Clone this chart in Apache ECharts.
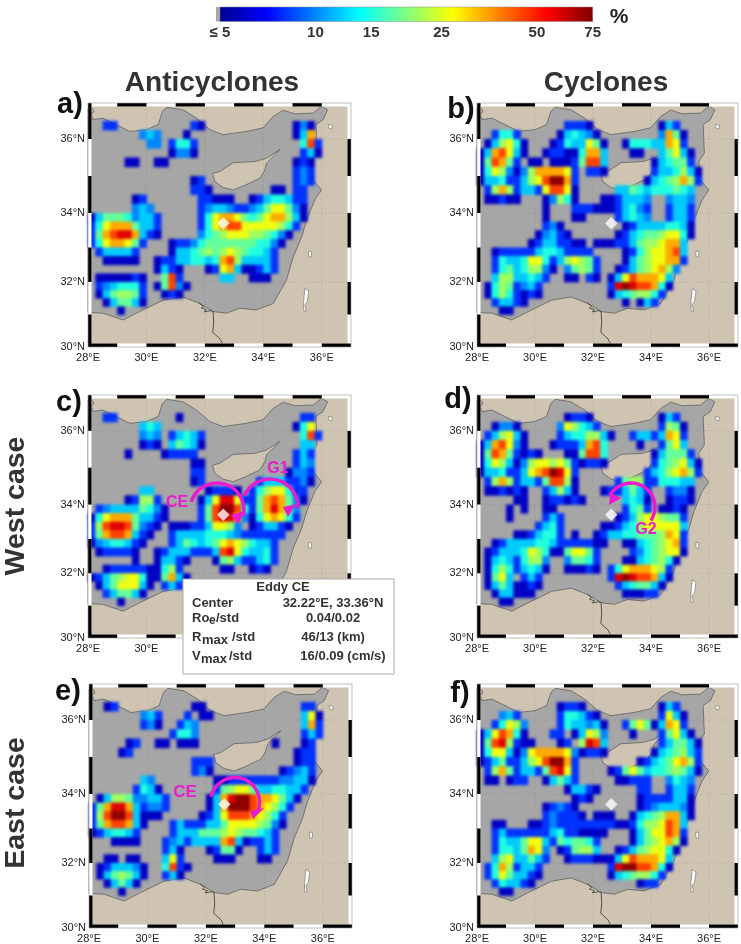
<!DOCTYPE html>
<html><head><meta charset="utf-8">
<style>html,body{margin:0;padding:0;background:#fff}#c{width:741px;height:944px}canvas[data-zr-dom-id="zr_1"]{filter:blur(1.8px)}</style>
<script src="https://cdn.jsdelivr.net/npm/echarts@6/dist/echarts.min.js"></script>
</head><body><div id="c"></div>
<script>
// level code -> eddy frequency (%)
const levelPercent={'0':6,'1':8,'2':10,'3':12,'4':15,'5':18,'6':21,'7':26,'8':34,'9':45,'A':58,'B':72};
// rows run from 36.5N southward in 0.25 deg bands; each group is one degree of longitude from 28E
const panelA=[
"..11|....|....|..10|....|....|....|020.",
"....|...2|32..|.0..|....|....|....|038.",
"....|....|22.1|441.|....|....|....|.491",
"....|....|...0|220.|....|....|....|.130",
"....|.00.|.00.|....|....|....|....|010.",
"....|....|....|....|....|....|....|121.",
"....|....|....|..01|....|....|....|121.",
"....|....|....|..11|0...|....|.00.|11..",
"....|..01|....|...1|1000|..01|3443|11..",
"....|..23|2...|...1|2332|1123|5775|20..",
"0355|5423|31..|...1|4788|7545|7886|30..",
"1478|8853|31..|...1|4789|9777|7764|1...",
"1589|AA83|10..|...2|4567|7766|5420|....",
"1478|8751|...0|1124|5555|5554|420.|....",
".133|331.|...0|3345|6567|6544|31..|....",
"..00|000.|.011|3344|3489|6333|31..|....",
"....|....|.031|0...|0178|3001|31..|....",
".000|0010|..59|1...|..33|..00|0...|....",
".123|4441|.059|20..",
".035|6651|..01|0...",
"..03|5530",
"....|0..."];
const panelB=[
"....|....|....|1110|....|....|.031",
"..14|41..|...0|3432|0...|....|.285|0...",
".036|740.|..01|4337|50..|0444|3387|1...",
"0389|730.|.011|0048|83..|.00.|.357|30..",
"0598|51.0|0.00|0159|93..|....|0345|51..",
"0476|2026|8888|71.1|10..|....|1334|630.",
"0334|1136|79BB|81..|....|...0|3456|861.",
".168|6133|1799|70..|...3|3543|4445|43..",
".001|00..|.026|40..|.001|3332|..23|32..",
"....|....|.0..|.111|0001|3421|..13|31..",
"....|....|.0..|.00.|...1|3432|..13|31..",
"....|....|.120|....|....|0133|3344|30..",
"....|....|0231|0...|...0|1345|5677|40..",
"....|...0|1331|100.|0001|1356|6788|3...",
"..01|1111|3443|1111|....|0146|7789|3...",
"..14|3347|7413|6765|1...|0356|7788|1...",
"..14|5346|620.|2565|1..0|1356|7862|....",
"..36|6334|31..|00.1|0.03|7988|873.|....",
".046|5123|1...|....|..1A|BA99|840.|....",
".046|4101|0...|....|..03|4566|41..|....",
"..13|310.|....|....|....|0.03|1...|....",
"...0|0..."];
const panelC=[
"..11|....|....|0...|....|....|....|.11.",
"....|...3|43..|....|....|....|....|047.",
"....|...2|32.1|3431|....|....|....|.491",
"....|...0|10.3|5430|....|....|....|.33.",
"....|.0..|..01|111.|....|....|....|131.",
"....|....|....|..00|....|....|....|132.",
"....|....|....|..11|....|....|...0|221.",
"....|....|....|..01|....|...1|3331|120.",
"....|...3|3...|....|0111|0.14|6774|11..",
"....|.016|61..|...0|37AA|7115|8985|20..",
".123|3335|420.|...1|59BB|9415|8A85|2...",
"0478|8853|310.|...1|59AA|8204|7874|1...",
"169A|A952|10.0|0011|3776|2.01|3310|....",
"1589|9831|0..1|3333|4443|2111|111.|....",
"0234|4310|...1|3543|4578|7643|31..|....",
".011|110.|.013|3311|139A|7433|41..|....",
"....|..0.|.033|10..|.056|3113|41..|....",
"..01|1111|0046|1...|..00|..01|0...|....",
"0135|6774|0058|30..",
".035|7773|0.13|1...",
"..13|5530",
"....|0..."];
const panelD=[
"....|....|....|0110|....|....|.031",
"..02|20..|...2|7643|1...|....|.165|0...",
".136|730.|...1|3446|630.|.133|1387|1...",
"0389|720.|..01|1138|94..|..0.|.157|3...",
"0598|5101|0...|0059|94..|....|0355|51..",
"0476|3026|7767|5101|10..|....|1456|730.",
"0334|1137|89BA|71..|....|...1|3467|861.",
".168|6133|1599|60..|...1|5661|1444|33..",
".001|010.|.136|30..|.011|3531|..12|20..",
"....|.00.|.011|010.|....|3430|..01|10..",
"....|0.0.|.00.|....|....|1451|.001|0...",
"....|0...|.131|....|...0|1367|7655|1...",
"....|....|1341|....|.001|3467|7777|3...",
"....|.001|3441|.0..|0133|4455|5687|1...",
"..01|3333|4431|1111|00..|0034|5678|1...",
".013|3347|6400|5775|1...|.124|5677|0...",
".034|3146|62..|2554|1...|0034|5640|....",
".046|4134|30..|0001|0.14|7888|761.|....",
".057|3.13|1...|....|..1A|BA99|830.|....",
".035|3001|0...|....|...1|3455|30..|....",
"..03|3000|....|....|....|0001|1...|....",
"...0|0..."];
const panelE=[
"..01|....|....|..00|....|....|....|.11.",
"....|...2|31..|.1.0|0...|....|....|.370",
"....|...1|20..|132.|....|....|....|.381",
"....|....|...1|442.|....|....|....|.131",
"....|.01.|.00.|000.|....|....|.0..|.01.",
"....|01..|....|....|....|....|....|011.",
"....|....|....|..11|1...|....|....|011.",
"....|....|....|..12|0...|....|..01|231.",
"....|...3|2...|....|.001|1111|1122|330.",
"....|..14|30..|....|.156|7753|3443|31..",
".036|6522|331.|....|038A|BB98|8753|0...",
"158A|A831|221.|....|038B|BB98|7641|....",
"169B|B930|00..|...0|1379|9987|641.|....",
"1589|9830|...1|3111|3357|7776|520.|....",
"0134|431.|...1|3335|5567|6554|31..|....",
"...0|000.|..12|3133|3389|3011|31..|....",
"....|....|..13|0...|0155|0..1|31..|....",
"..00|.00.|..37|1...|.000|...0|0...|....",
".013|3320|..49|10..",
".035|6530|..13|0...",
"..03|530.",
"....|0..."];
const panelF=[
"....|....|...0|110.|....|....|.031",
"...2|31..|...1|4431|0...|....|.173|0...",
"..14|762.|...1|4332|30..|1575|0387|1...",
"0379|840.|..11|.037|62..|.0..|.157|30..",
"059A|6100|...0|1.6A|93..|....|.135|530.",
"0477|3027|8888|7201|10..|....|0345|631.",
"0135|1136|79BB|81..|....|..01|3457|861.",
".168|5133|159A|71..|..01|5753|4456|530.",
".00.|011.|.035|31..|...0|0111|..24|32..",
"....|....|....|0331|0...|..11|..13|31..",
"....|....|....|.010|....|..01|1113|30..",
"....|....|.012|10..|....|..01|2333|20..",
"....|....|.121|110.|000.|.034|5688|30..",
"..00|...0|0121|1111|1110|0146|6798|3...",
"..13|1111|1134|1100|00..|.035|7798|1...",
"..14|3357|7315|4554|1...|.035|6786|0...",
"..14|4358|72.0|1566|3..0|1356|7740|....",
"..36|7335|31..|0111|0003|7988|873.|....",
".148|6133|1...|....|..1A|BB99|840.|....",
".147|5331|0...|....|..03|4566|41..|....",
"..14|3310|....|....|....|..01|1...|....",
"...0|0..."];
const seaOutline=[[28,36.86],[28.05,36.86],[28.17,36.54],[28.51,36.58],[28.97,36.40],[29.43,36.21],[30.0,36.26],[30.4,36.40],[30.55,36.77],[30.7,36.88],[31.25,36.81],[31.71,36.58],[32.17,36.26],[32.62,36.12],[33.42,36.21],[33.99,36.31],[34.34,36.63],[34.68,36.80],[35.08,36.70],[35.71,36.72],[35.99,36.91],[36.2,36.81],[36.05,36.54],[35.8,36.40],[35.84,35.62],[35.65,35.39],[35.71,34.89],[35.99,34.62],[35.76,34.35],[35.48,33.79],[35.31,33.30],[35.02,32.72],[34.79,32.05],[34.34,31.34],[33.76,31.14],[33.19,31.19],[32.74,31.04],[32.28,31.09],[31.82,31.34],[31.25,31.54],[30.57,31.44],[29.77,31.09],[29.2,30.83],[28.51,31.04],[28.03,31.06],[28,31.06]];
const cyprusOutline=[[34.56,35.71],[34.11,35.48],[33.71,35.39],[32.97,35.36],[32.68,35.21],[32.51,35.12],[32.26,35.07],[32.34,34.85],[32.62,34.69],[32.97,34.62],[33.37,34.75],[33.88,34.94],[34.05,35.16],[34.11,35.35],[34.39,35.57]];
const deadSea=[[35.42,31.8],[35.55,31.72],[35.5,31.4],[35.42,31.3],[35.47,31.1],[35.38,31.12],[35.38,31.4]];
const tiberias=[[35.55,32.9],[35.65,32.88],[35.64,32.72],[35.55,32.74]];
const islet=[[36.22,36.4],[36.36,36.38],[36.34,36.28],[36.24,36.3]];
const nileDelta=[[31.8,31.36],[31.95,31.25],[31.88,31.2],[32.05,31.15],[31.98,31.08],[32.2,31.12],[32.28,31.09],[32.3,30.75],[32.27,30.45],[32.52,30.25],[32.63,30.05]];
const coastBits=[[28.1,36.7],[28.2,36.75],[28.15,36.85]];
const lonTicks=[28,30,32,34,36];
const latTicks=[30,32,34,36];
const gridLons=[30,32,34,36];
const latStops=[30,32,34,36,37];
const projStops=[0,65,134,208,244];
const frameTop=[29,31,33,35],frameBottom=[28,30,32,34,36],frameLeft=[30,32,34,36],frameRight=[31,33,35];
const markerLon=32.63,markerLat=33.7;
const colorbarTicks=[5,10,15,25,50,75];
const colorbarLabels=['≤ 5','10','15','25','50','75'];
const jetStops=[[0,'#00008f'],[0.125,'#0000ff'],[0.375,'#00ffff'],[0.625,'#ffff00'],[0.875,'#ff0000'],[1,'#800000']];

const panels=[panelA,panelB,panelC,panelD,panelE,panelF];
const layout=[[88,103,263,244],[477,103,261,244],[88,395,263,243],[477,395,261,243],[89,684,263,245],[477,684,261,245]];
const LAND='#cfc4b2',SEA='#a6a6a6';

function proj(lat){for(let i=0;i<4;i++){if(lat<=latStops[i+1]){const f=(lat-latStops[i])/(latStops[i+1]-latStops[i]);return projStops[i]+f*(projStops[i+1]-projStops[i]);}}return 244;}
function clamp(v){return Math.max(0,Math.min(1,v));}
function jet(p){const t=clamp(Math.log(p/5)/Math.log(15));
 const h=v=>Math.round(255*clamp(v));
 return 'rgb('+h(1.5-Math.abs(4*t-3))+','+h(1.5-Math.abs(4*t-2))+','+h(1.5-Math.abs(4*t-1))+')';}
function cells(rows){const out=[];rows.forEach((r,ri)=>{r.replace(/\|/g,'').split('').forEach((ch,ci)=>{if(ch==='.')return;
 const lon=28+0.25*ci,top=36.5-0.25*ri;
 out.push([lon,lon+0.25,proj(top),proj(top-0.25),levelPercent[ch]]);});});return out;}
function polyShape(api,pts){return pts.map(p=>api.coord([p[0],proj(p[1])]));}

const grids=[],xAxes=[],yAxes=[],series=[];
layout.forEach((g,i)=>{
 grids.push({left:g[0],top:g[1],width:g[2],height:g[3],show:true,backgroundColor:LAND,borderWidth:0});
 xAxes.push({type:'value',gridIndex:i,min:28,max:37,axisLine:{show:false},axisTick:{show:false},splitLine:{show:false},
  axisLabel:{customValues:lonTicks,formatter:v=>v+'°E',color:'#222',fontSize:11,margin:5,fontFamily:'Liberation Sans'}});
 yAxes.push({type:'value',gridIndex:i,min:0,max:244,axisLine:{show:false},axisTick:{show:false},splitLine:{show:false},
  axisLabel:{customValues:latTicks.map(proj),formatter:v=>{let b=latTicks[0];latTicks.forEach(l=>{if(Math.abs(proj(l)-v)<1)b=l;});return b+'°N';},color:'#222',fontSize:11,margin:3,fontFamily:'Liberation Sans'}});
 // land and sea
 series.push({type:'custom',xAxisIndex:i,yAxisIndex:i,coordinateSystem:'cartesian2d',z:2,silent:true,clip:false,data:[[28,0]],
  renderItem(p,api){const kids=[];
   kids.push({type:'polygon',shape:{points:polyShape(api,seaOutline)},style:{fill:SEA,stroke:'#444',lineWidth:0.6}});
   kids.push({type:'polygon',shape:{points:polyShape(api,cyprusOutline)},style:{fill:LAND,stroke:'#444',lineWidth:0.6}});
   [deadSea,tiberias,islet].forEach(s=>kids.push({type:'polygon',shape:{points:polyShape(api,s)},style:{fill:'#fff',stroke:'#555',lineWidth:0.5}}));
   kids.push({type:'polyline',shape:{points:polyShape(api,nileDelta)},style:{fill:null,stroke:'#333',lineWidth:0.8}});
   kids.push({type:'polyline',shape:{points:polyShape(api,coastBits)},style:{fill:null,stroke:'#333',lineWidth:0.6}});
   gridLons.forEach(l=>{const a=api.coord([l,0]),b=api.coord([l,244]);kids.push({type:'line',shape:{x1:a[0],y1:a[1],x2:b[0],y2:b[1]},style:{stroke:'rgba(70,70,70,0.3)',lineWidth:0.6,lineDash:[1,2]}});});
   latTicks.forEach(l=>{const a=api.coord([28,proj(l)]),b=api.coord([37,proj(l)]);kids.push({type:'line',shape:{x1:a[0],y1:a[1],x2:b[0],y2:b[1]},style:{stroke:'rgba(70,70,70,0.3)',lineWidth:0.6,lineDash:[1,2]}});});
   return {type:'group',children:kids};}});
 // frequency cells
 series.push({type:'custom',xAxisIndex:i,yAxisIndex:i,coordinateSystem:'cartesian2d',zlevel:1,z:3,silent:true,data:cells(panels[i]),encode:{x:[0,1],y:[2,3]},
  renderItem(p,api){const a=api.coord([api.value(0),api.value(2)]),b=api.coord([api.value(1),api.value(3)]);
   return {type:'rect',shape:{x:a[0],y:a[1],width:b[0]-a[0]+0.4,height:b[1]-a[1]+0.4},style:{fill:jet(api.value(4))}};}});
 // reference point
 series.push({type:'scatter',xAxisIndex:i,yAxisIndex:i,zlevel:2,z:4,silent:true,symbol:'diamond',symbolSize:12,itemStyle:{color:'#fff',borderColor:'#eee',borderWidth:0.5},data:[[markerLon,proj(markerLat)]]});
 // map frame
 series.push({type:'custom',xAxisIndex:i,yAxisIndex:i,coordinateSystem:'cartesian2d',zlevel:2,z:5,silent:true,clip:false,data:[[28,0]],
  renderItem(p,api){const w=3.5;const tl=api.coord([28,244]),br=api.coord([37,0]);const L=tl[0],T=tl[1],R=br[0],B=br[1];
   const kids=[
    {type:'rect',shape:{x:L,y:T,width:R-L,height:w},style:{fill:'#fff'}},
    {type:'rect',shape:{x:L,y:B-w,width:R-L,height:w},style:{fill:'#fff'}},
    {type:'rect',shape:{x:L,y:T,width:w,height:B-T},style:{fill:'#fff'}},
    {type:'rect',shape:{x:R-w,y:T,width:w,height:B-T},style:{fill:'#fff'}}];
   frameTop.forEach(l=>{const a=api.coord([l,0])[0],b=api.coord([l+1,0])[0];kids.push({type:'rect',shape:{x:a,y:T,width:b-a,height:w},style:{fill:'#000'}});});
   frameBottom.forEach(l=>{const a=api.coord([l,0])[0],b=api.coord([l+1,0])[0];kids.push({type:'rect',shape:{x:a,y:B-w,width:b-a,height:w},style:{fill:'#000'}});});
   frameLeft.forEach(l=>{const a=api.coord([28,proj(l+1)])[1],b=api.coord([28,proj(l)])[1];kids.push({type:'rect',shape:{x:L,y:a,width:w,height:b-a},style:{fill:'#000'}});});
   frameRight.forEach(l=>{const a=api.coord([28,proj(l+1)])[1],b=api.coord([28,proj(l)])[1];kids.push({type:'rect',shape:{x:R-w,y:a,width:w,height:b-a},style:{fill:'#000'}});});
   kids.push({type:'rect',shape:{x:L,y:T,width:R-L,height:B-T},style:{fill:null,stroke:'#999',lineWidth:0.6}});
   return {type:'group',children:kids};}});
});
// colour bar
const cbIdx=layout.length,ln=Math.log;
grids.push({left:216,top:7,width:376.7,height:14.5,show:false});
xAxes.push({type:'value',gridIndex:cbIdx,min:ln(5)-0.029,max:ln(75),position:'bottom',axisLine:{show:false},
 axisTick:{show:true,inside:true,length:3,customValues:colorbarTicks.map(ln),lineStyle:{color:'#555',width:0.6}},splitLine:{show:false},
 axisLabel:{customValues:colorbarTicks.map(ln),formatter:v=>{let k=0;colorbarTicks.forEach((t,j)=>{if(Math.abs(ln(t)-v)<1e-3)k=j;});return colorbarLabels[k];},color:'#333',fontSize:15,fontWeight:'bold',margin:4,fontFamily:'Liberation Sans',hideOverlap:false}});
yAxes.push({type:'value',gridIndex:cbIdx,min:0,max:1,show:false});
series.push({type:'custom',xAxisIndex:cbIdx,yAxisIndex:cbIdx,coordinateSystem:'cartesian2d',z:2,silent:true,clip:false,data:[[ln(5),ln(75)]],
 renderItem(p,api){const a=api.coord([api.value(0),1]),b=api.coord([api.value(1),0]),g=api.coord([ln(5)-0.029,1]);
  return {type:'group',children:[
   {type:'rect',shape:{x:g[0],y:a[1],width:a[0]-g[0],height:b[1]-a[1]},style:{fill:'#a8a8a8'}},
   {type:'rect',shape:{x:a[0],y:a[1],width:b[0]-a[0],height:b[1]-a[1]},style:{fill:new echarts.graphic.LinearGradient(0,0,1,0,jetStops.map(s=>({offset:s[0],color:s[1]}))),stroke:'#888',lineWidth:0.5}}]};}});

const MAG='#e81ccf',TXT='#333';
const F='Liberation Sans';
function txt(x,y,t,size,opts){opts=opts||{};return {type:'text',zlevel:2,z:100,x:x,y:y,silent:true,rotation:opts.rot||0,
 style:{text:t,font:(opts.weight||'bold')+' '+size+'px "'+F+'"',fill:opts.fill||TXT,textAlign:opts.align||'center',textVerticalAlign:'middle'}};}
function arc(cx,cy,r,s,e,cw){return {type:'arc',zlevel:2,z:100,silent:true,shape:{cx:cx,cy:cy,r:r,startAngle:s*Math.PI/180,endAngle:e*Math.PI/180,clockwise:cw},style:{fill:null,stroke:MAG,lineWidth:3.5}};}
function tri(p){return {type:'polygon',zlevel:2,z:100,silent:true,shape:{points:p},style:{fill:MAG}};}
const graphic=[
 txt(619,17,'%',21,{fill:'#222'}),
 txt(212,83,'Anticyclones',28),txt(606,83,'Cyclones',28),
 txt(70,105,'a)',29,{fill:'#111'}),txt(461,110,'b)',29,{fill:'#111'}),
 txt(69,403,'c)',29,{fill:'#111'}),txt(458,400,'d)',29,{fill:'#111'}),
 txt(68,692,'e)',29,{fill:'#111'}),txt(460,694,'f)',29,{fill:'#111'}),
 txt(16,506,'West case',28.5,{rot:Math.PI/2}),txt(16,803,'East case',28.5,{rot:Math.PI/2}),
 arc(217,510,27,197,372,true),tri([[245,511],[231,515],[238,524]]),txt(177,503,'CE',16,{fill:MAG}),
 arc(270,507,28,204,363,true),tri([[296,504],[283,507],[288,517]]),txt(278,469,'G1',16,{fill:MAG}),
 arc(631,507,24,34,209,false),tri([[609,505],[610,493],[621,498]]),txt(646,530,'G2',16,{fill:MAG}),
 arc(235,802,24.5,192,381,true),tri([[264,808],[250,811],[253,819]]),txt(185,792,'CE',17,{fill:MAG}),
 {type:'rect',zlevel:2,z:99,silent:true,shape:{x:183,y:579,width:211,height:95},style:{fill:'#fff',stroke:'#aaa',lineWidth:1}},
 txt(283,587,'Eddy CE',13),
 txt(192,603,'Center',13,{align:'left'}),txt(333,603,'32.22°E, 33.36°N',13),
 txt(192,618,'Ro',13,{align:'left'}),txt(209,621,'e',12,{align:'left'}),txt(216,618,'/std',13,{align:'left'}),txt(333,618,'0.04/0.02',13),
 txt(192,637,'R',13,{align:'left'}),txt(202,640,'max',13,{align:'left'}),txt(232,637,'/std',13,{align:'left'}),txt(333,637,'46/13 (km)',13),
 txt(192,656,'V',13,{align:'left'}),txt(201,659,'max',13,{align:'left'}),txt(229,656,'/std',13,{align:'left'}),txt(343,656,'16/0.09 (cm/s)',13)
];
const chart=echarts.init(document.getElementById('c'),null,{renderer:'canvas'});
chart.setOption({animation:false,backgroundColor:'#fff',grid:grids,xAxis:xAxes,yAxis:yAxes,series:series,graphic:graphic});
</script></body></html>
